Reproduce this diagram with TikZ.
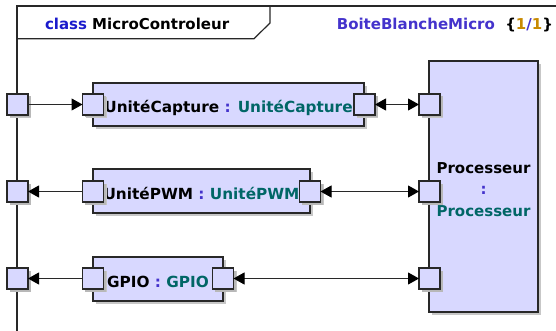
\documentclass[tikz,border=0pt]{standalone}
\usepackage{fontspec}
\setmainfont{DejaVu Sans}
\usetikzlibrary{arrows.meta,shadows}
\definecolor{boxfill}{RGB}{216,216,255}
\definecolor{linec}{RGB}{40,40,40}
\definecolor{teal2}{RGB}{0,102,102}
\definecolor{kwblue}{RGB}{26,26,204}
\definecolor{purp}{RGB}{68,51,204}
\definecolor{gold}{RGB}{200,138,0}
\begin{document}
\begin{tikzpicture}[x=1pt,y=-1pt,
  every node/.style={inner sep=0pt,outer sep=0pt,font=\fontsize{15.3}{18}\selectfont\bfseries},
  part/.style={draw=linec,line width=1.1pt,fill=boxfill,rectangle,
    drop shadow={shadow xshift=3pt,shadow yshift=-3pt,fill=black!22,opacity=1}},
  port/.style={part,minimum width=21pt,minimum height=21pt,
    drop shadow={shadow xshift=2.5pt,shadow yshift=-2.5pt,fill=black!28,opacity=1}},
  frm/.style={draw=linec,line width=1.2pt},
  conn/.style={draw=linec,line width=1pt},
  tip/.style={-{Triangle[length=11pt,width=12pt,color=black]}},
  tips/.style={{Triangle[length=11pt,width=12pt,color=black]}-{Triangle[length=11pt,width=12pt,color=black]}},
  nm/.style={text=teal2},
  sep/.style={text=purp}]
\useasboundingbox[fill=white] (0,0) rectangle (556,331);
% frame
\coordinate (fbl) at (17,331);
\coordinate (ftl) at (17,6);
\coordinate (ftr) at (556,6);
\draw[frm] (fbl) -- (ftl) -- (ftr);
\coordinate (tabA) at (17,38.7);
\coordinate (tabB) at (254,38.7);
\coordinate (tabC) at (270,23);
\coordinate (tabD) at (270,6);
\draw[frm] (tabA) -- (tabB) -- (tabC) -- (tabD);
\node[anchor=base west,font=\fontsize{15}{18}\selectfont\bfseries] (title) at (45,29.3) {\textcolor{kwblue}{class} MicroControleur};
\node[anchor=base east,font=\fontsize{15}{18}\selectfont\bfseries] (diag) at (553,29.3) {\textcolor{purp}{BoiteBlancheMicro}\ \ \{\textcolor{gold}{1}\textcolor{purp}{/}\textcolor{gold}{1}\}};
% parts
\node[part,minimum width=271pt,minimum height=43pt] (cap) at (228.5,104.5) {};
\node[anchor=base] (captxt) at (228.5,112.7) {UnitéCapture \textcolor{purp}{:} \textcolor{teal2}{UnitéCapture}};
\node[part,minimum width=217pt,minimum height=44pt] (pwm) at (201.5,191) {};
\node[anchor=base] (pwmtxt) at (201.5,199) {UnitéPWM \textcolor{purp}{:} \textcolor{teal2}{UnitéPWM}};
\node[part,minimum width=130pt,minimum height=44pt] (gpio) at (158,279) {};
\node[anchor=base] (gpiotxt) at (158,287.7) {GPIO \textcolor{purp}{:} \textcolor{teal2}{GPIO}};
\node[part,minimum width=109pt,minimum height=251pt] (proc) at (483.5,186.5) {};
\node[anchor=base,font=\fontsize{15}{18}\selectfont\bfseries] (proct1) at (483.5,174) {Processeur};
\node[anchor=base,font=\fontsize{15}{18}\selectfont\bfseries] (proct2) at (483.5,194) {\textcolor{purp}{:}};
\node[anchor=base,font=\fontsize{15}{18}\selectfont\bfseries] (proct3) at (483.5,216) {\textcolor{teal2}{Processeur}};
% ports
\node[port] (fp1) at (17.5,104.5) {};
\node[port] (fp2) at (17.5,191.5) {};
\node[port] (fp3) at (17.5,278.5) {};
\node[port] (cl) at (93,104.5) {};
\node[port] (cr) at (364.5,104.5) {};
\node[port] (pl) at (93,191.5) {};
\node[port] (pr) at (310,191.5) {};
\node[port] (gl) at (93,278.5) {};
\node[port] (gr) at (223,278.5) {};
\node[port] (pp1) at (429.5,104.5) {};
\node[port] (pp2) at (429.5,191.5) {};
\node[port] (pp3) at (429.5,278.5) {};
% connectors
\draw[conn,tip] (fp1) -- (cl);
\draw[conn,tips] (cr) -- (pp1);
\draw[conn,tip] (pl) -- (fp2);
\draw[conn,tips] (pr) -- (pp2);
\draw[conn,tip] (gl) -- (fp3);
\draw[conn,tips] (gr) -- (pp3);
\end{tikzpicture}
\end{document}
